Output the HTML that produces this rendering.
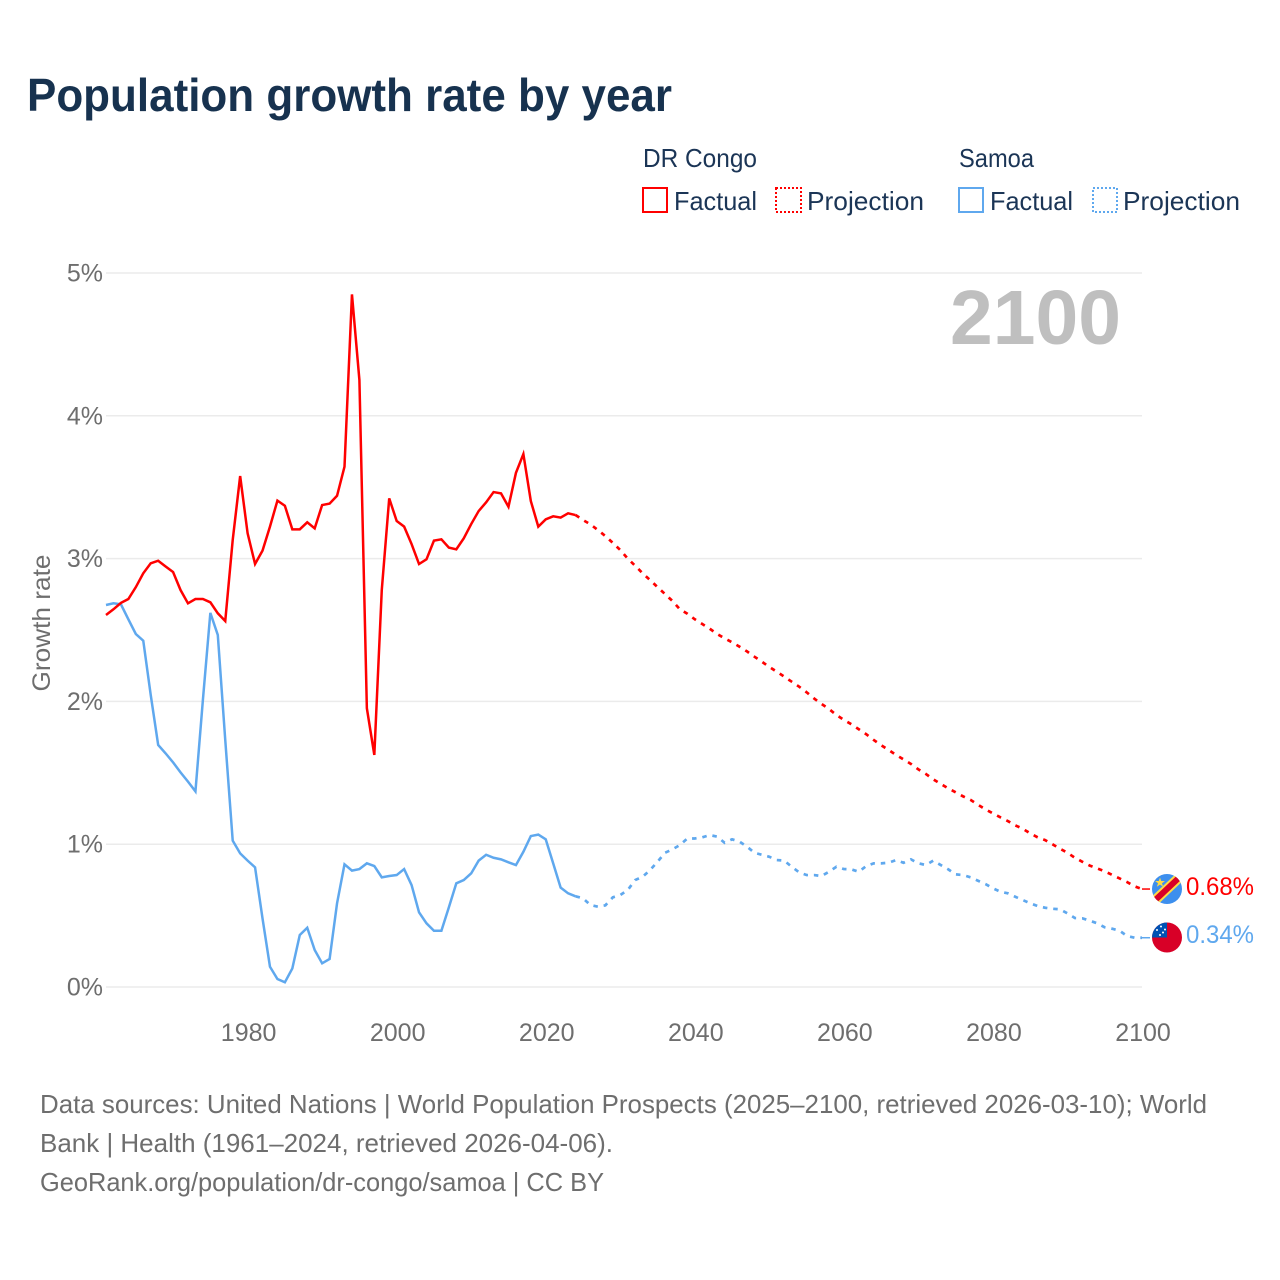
<!DOCTYPE html>
<html lang="en">
<head>
<meta charset="utf-8">
<title>Population growth rate by year</title>
<style>
  html, body { margin: 0; padding: 0; background: #ffffff; }
  svg { display: block; }
  text { font-family: "Liberation Sans", sans-serif; }
</style>
</head>
<body>
<svg id="chart" xmlns="http://www.w3.org/2000/svg" width="1280" height="1280" viewBox="0 0 1280 1280">
  <rect x="0" y="0" width="1280" height="1280" fill="#ffffff"/>
  <text x="27" y="111" font-size="46" font-weight="700" fill="#17324f" textLength="645" lengthAdjust="spacingAndGlyphs">Population growth rate by year</text>

  <g font-size="26" fill="#1b3556">
    <text x="643" y="167" textLength="114" lengthAdjust="spacingAndGlyphs">DR Congo</text>
    <text x="959" y="167" textLength="75" lengthAdjust="spacingAndGlyphs">Samoa</text>
    <rect x="643" y="188" width="24" height="24" fill="none" stroke="#ff0000" stroke-width="2"/>
    <text x="674" y="210" textLength="83" lengthAdjust="spacingAndGlyphs">Factual</text>
    <rect x="776" y="188" width="25" height="24" fill="none" stroke="#ff0000" stroke-width="2" stroke-dasharray="2 2"/>
    <text x="807" y="210" textLength="117" lengthAdjust="spacingAndGlyphs">Projection</text>
    <rect x="959" y="188" width="24" height="24" fill="none" stroke="#5fa8ee" stroke-width="2"/>
    <text x="990" y="210" textLength="83" lengthAdjust="spacingAndGlyphs">Factual</text>
    <rect x="1093" y="188" width="24" height="24" fill="none" stroke="#5fa8ee" stroke-width="2" stroke-dasharray="2 2"/>
    <text x="1123" y="210" textLength="117" lengthAdjust="spacingAndGlyphs">Projection</text>
  </g>

  <g id="grid"></g>
  <g id="y-labels"></g>
  <g id="x-labels"></g>
  <text transform="translate(50,623) rotate(-90)" text-anchor="middle" font-size="25" fill="#6e6e6e" textLength="137" lengthAdjust="spacingAndGlyphs">Growth rate</text>
  <text x="950" y="344" font-size="77" font-weight="700" fill="#bfbfbf" textLength="171" lengthAdjust="spacingAndGlyphs">2100</text>

  <g id="series"></g>

  <defs>
    <clipPath id="flag-clip-cd"><circle cx="1167" cy="889" r="15"/></clipPath>
    <clipPath id="flag-clip-ws"><circle cx="1167" cy="937.5" r="15"/></clipPath>
  </defs>
  <g clip-path="url(#flag-clip-cd)">
    <rect x="1152" y="874" width="30" height="30" fill="#3d8fee"/>
    <line x1="1150" y1="905" x2="1184" y2="873" stroke="#ffda44" stroke-width="10"/>
    <line x1="1150" y1="905" x2="1184" y2="873" stroke="#d80027" stroke-width="6"/>
    <polygon points="1160,877.5 1161.2,881 1165,881 1162,883.2 1163.1,886.8 1160,884.6 1156.9,886.8 1158,883.2 1155,881 1158.8,881" fill="#ffda44"/>
  </g>
  <g clip-path="url(#flag-clip-ws)">
    <rect x="1152" y="922.5" width="30" height="30" fill="#d80027"/>
    <rect x="1152" y="922.5" width="15" height="15" fill="#0052b4"/>
    <circle cx="1161" cy="926.5" r="1" fill="#ffffff"/>
    <circle cx="1165" cy="929.5" r="1" fill="#ffffff"/>
    <circle cx="1157" cy="930" r="1" fill="#ffffff"/>
    <circle cx="1163" cy="932.5" r="1" fill="#ffffff"/>
    <circle cx="1160" cy="935" r="1" fill="#ffffff"/>
  </g>
  <text x="1186" y="895" font-size="25" fill="#ff0000" textLength="68" lengthAdjust="spacingAndGlyphs">0.68%</text>
  <text x="1186" y="943" font-size="25" fill="#5fa8ee" textLength="68" lengthAdjust="spacingAndGlyphs">0.34%</text>

  <g font-size="26" fill="#6e6e6e">
    <text x="40" y="1113" textLength="1167" lengthAdjust="spacingAndGlyphs">Data sources: United Nations | World Population Prospects (2025–2100, retrieved 2026-03-10); World</text>
    <text x="40" y="1152" textLength="573" lengthAdjust="spacingAndGlyphs">Bank | Health (1961–2024, retrieved 2026-04-06).</text>
    <text x="40" y="1191" textLength="564" lengthAdjust="spacingAndGlyphs">GeoRank.org/population/dr-congo/samoa | CC BY</text>
  </g>
</svg>

<script>
const factualYears = [1961,1962,1963,1964,1965,1966,1967,1968,1969,1970,1971,1972,1973,1974,1975,1976,1977,1978,1979,1980,1981,1982,1983,1984,1985,1986,1987,1988,1989,1990,1991,1992,1993,1994,1995,1996,1997,1998,1999,2000,2001,2002,2003,2004,2005,2006,2007,2008,2009,2010,2011,2012,2013,2014,2015,2016,2017,2018,2019,2020,2021,2022,2023,2024];
const projectionYears = [2024,2025,2026,2027,2028,2029,2030,2031,2032,2033,2034,2035,2036,2037,2038,2039,2040,2041,2042,2043,2044,2045,2046,2047,2048,2049,2050,2051,2052,2053,2054,2055,2056,2057,2058,2059,2060,2061,2062,2063,2064,2065,2066,2067,2068,2069,2070,2071,2072,2073,2074,2075,2076,2077,2078,2079,2080,2081,2082,2083,2084,2085,2086,2087,2088,2089,2090,2091,2092,2093,2094,2095,2096,2097,2098,2099,2100];

const drCongoFactual = [2.605,2.645,2.69,2.717,2.80,2.897,2.967,2.985,2.945,2.906,2.78,2.687,2.717,2.717,2.694,2.617,2.563,3.13,3.578,3.177,2.962,3.056,3.224,3.406,3.37,3.205,3.205,3.254,3.212,3.375,3.385,3.44,3.644,4.85,4.25,1.952,1.625,2.78,3.422,3.263,3.224,3.102,2.962,2.995,3.126,3.135,3.077,3.065,3.142,3.242,3.333,3.394,3.466,3.457,3.363,3.60,3.732,3.403,3.224,3.275,3.296,3.287,3.317,3.305];
const drCongoProjection = [3.305,3.27,3.24,3.20,3.158,3.11,3.06,3.00,2.95,2.897,2.85,2.80,2.752,2.703,2.645,2.614,2.575,2.542,2.509,2.472,2.442,2.414,2.383,2.35,2.313,2.278,2.241,2.208,2.173,2.138,2.103,2.064,2.021,1.982,1.947,1.905,1.87,1.84,1.805,1.77,1.73,1.693,1.66,1.625,1.594,1.562,1.524,1.492,1.454,1.422,1.391,1.363,1.335,1.31,1.276,1.244,1.216,1.188,1.162,1.132,1.108,1.076,1.048,1.029,0.999,0.968,0.94,0.905,0.877,0.85,0.83,0.81,0.785,0.76,0.735,0.705,0.686];
const samoaFactual = [2.675,2.687,2.68,2.575,2.472,2.425,2.045,1.695,1.636,1.573,1.503,1.438,1.37,2.01,2.62,2.465,1.73,1.025,0.936,0.885,0.838,0.48,0.142,0.056,0.033,0.13,0.364,0.415,0.259,0.166,0.196,0.586,0.859,0.815,0.826,0.866,0.847,0.768,0.777,0.784,0.826,0.714,0.523,0.446,0.394,0.394,0.558,0.726,0.749,0.796,0.885,0.926,0.905,0.894,0.873,0.854,0.947,1.057,1.067,1.034,0.866,0.696,0.656,0.635];
const samoaProjection = [0.635,0.621,0.574,0.562,0.572,0.628,0.644,0.679,0.749,0.772,0.819,0.877,0.94,0.964,0.994,1.04,1.04,1.048,1.064,1.053,1.01,1.034,1.018,0.983,0.94,0.926,0.912,0.889,0.885,0.842,0.803,0.784,0.784,0.777,0.807,0.842,0.826,0.824,0.807,0.847,0.866,0.866,0.87,0.889,0.87,0.894,0.866,0.854,0.885,0.854,0.824,0.789,0.784,0.768,0.744,0.721,0.691,0.667,0.656,0.632,0.609,0.586,0.567,0.555,0.548,0.544,0.516,0.483,0.481,0.464,0.446,0.418,0.408,0.394,0.357,0.345,0.345];

const yTickValues = [0,1,2,3,4,5];
const yTickLabels = ["0%","1%","2%","3%","4%","5%"];
const xTickValues = [1980,2000,2020,2040,2060,2080,2100];
const xTickLabels = ["1980","2000","2020","2040","2060","2080","2100"];

const SVG_NS = "http://www.w3.org/2000/svg";
const plot = { left: 106, right: 1142, top: 273, bottom: 987 };
const xDomain = [1961, 2100];
const yDomain = [0, 5];

function xScale(year) {
  return plot.left + (year - xDomain[0]) / (xDomain[1] - xDomain[0]) * (plot.right - plot.left);
}
function yScale(value) {
  return plot.bottom - (value - yDomain[0]) / (yDomain[1] - yDomain[0]) * (plot.bottom - plot.top);
}
function pointsFor(years, values) {
  return years.map(function (year, i) {
    return xScale(year).toFixed(2) + "," + yScale(values[i]).toFixed(2);
  }).join(" ");
}

const gridGroup = document.getElementById("grid");
const yLabelGroup = document.getElementById("y-labels");
const xLabelGroup = document.getElementById("x-labels");
const seriesGroup = document.getElementById("series");

yTickValues.forEach(function (tick, i) {
  const line = document.createElementNS(SVG_NS, "line");
  
  
  line.setAttribute("x1", plot.left);
  line.setAttribute("x2", plot.right);
  line.setAttribute("y1", yScale(tick));
  line.setAttribute("y2", yScale(tick));
  line.setAttribute("stroke", "#ebebeb");
  line.setAttribute("stroke-width", "1.5");
  gridGroup.appendChild(line);

  const label = document.createElementNS(SVG_NS, "text");
  
  
  label.setAttribute("x", 103);
  label.setAttribute("y", yScale(tick) + 8.5);
  label.setAttribute("text-anchor", "end");
  label.setAttribute("font-size", "25");
  label.setAttribute("fill", "#6e6e6e");
  label.textContent = yTickLabels[i];
  yLabelGroup.appendChild(label);
});

xTickValues.forEach(function (tick, i) {
  const label = document.createElementNS(SVG_NS, "text");
  
  
  label.setAttribute("x", xScale(tick) + 1);
  label.setAttribute("y", 1041);
  label.setAttribute("text-anchor", "middle");
  label.setAttribute("font-size", "25");
  label.setAttribute("fill", "#6e6e6e");
  label.textContent = xTickLabels[i];
  xLabelGroup.appendChild(label);
});

function drawLine(years, values, color, dashed, name) {
  const line = document.createElementNS(SVG_NS, "polyline");
  
  
  line.setAttribute("points", pointsFor(years, values));
  line.setAttribute("fill", "none");
  line.setAttribute("stroke", color);
  line.setAttribute("stroke-width", dashed ? "2.7" : "2.5");
  line.setAttribute("stroke-linejoin", "miter");
  if (dashed) {
    line.setAttribute("stroke-dasharray", "4.5 5.9");
  }
  seriesGroup.appendChild(line);
}

function drawConnector(years, values, color, name) {
  const lastIndex = years.length - 1;
  const connector = document.createElementNS(SVG_NS, "line");
  
  
  connector.setAttribute("x1", xScale(years[lastIndex]));
  connector.setAttribute("x2", xScale(years[lastIndex]) + 8);
  connector.setAttribute("y1", yScale(values[lastIndex]));
  connector.setAttribute("y2", yScale(values[lastIndex]));
  connector.setAttribute("stroke", color);
  connector.setAttribute("stroke-width", "1.5");
  seriesGroup.appendChild(connector);
}

drawLine(factualYears, samoaFactual, "#5fa8ee", false, "line-samoa-factual");
drawLine(projectionYears, samoaProjection, "#5fa8ee", true, "line-samoa-projection");
drawConnector(projectionYears, samoaProjection, "#5fa8ee", "connector-samoa");
drawLine(factualYears, drCongoFactual, "#ff0000", false, "line-dr-congo-factual");
drawLine(projectionYears, drCongoProjection, "#ff0000", true, "line-dr-congo-projection");
drawConnector(projectionYears, drCongoProjection, "#ff0000", "connector-dr-congo");
</script>
</body>
</html>
